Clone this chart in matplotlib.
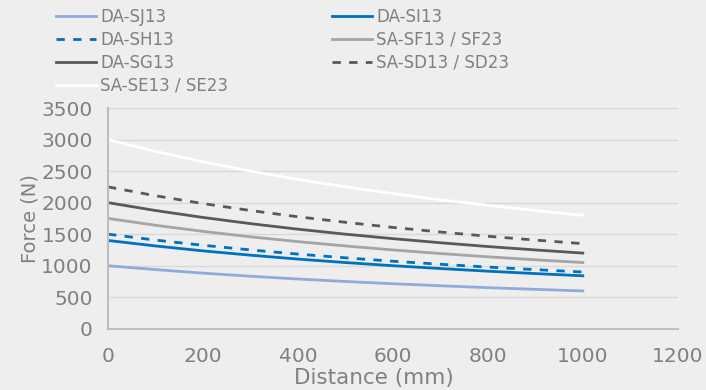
import matplotlib.pyplot as plt

distance = [0, 100, 200, 300, 400, 500, 600, 700, 800, 900, 1000]

sj13 = [1000, 938, 882, 833, 789, 750, 714, 682, 652, 625, 600]
si13 = [1400, 1313, 1235, 1167, 1105, 1050, 1000, 955, 913, 875, 840]
sh13 = [1500, 1406, 1324, 1250, 1184, 1125, 1071, 1023, 978, 938, 900]
sf13 = [1750, 1641, 1544, 1458, 1382, 1313, 1250, 1193, 1141, 1094, 1050]
sg13 = [2000, 1875, 1765, 1667, 1579, 1500, 1429, 1364, 1304, 1250, 1200]
sd13 = [2250, 2109, 1985, 1875, 1776, 1688, 1607, 1534, 1467, 1406, 1350]
se13 = [3000, 2813, 2647, 2500, 2368, 2250, 2143, 2045, 1957, 1875, 1800]

bg = '#EEEEEE'
txt = '#808080'

plt.rcParams['font.family'] = ['DejaVu Sans']

fig = plt.figure(figsize=(7.06, 3.9), dpi=100, facecolor=bg)
ax = fig.add_axes([0.153, 0.157, 0.807, 0.566], facecolor=bg)

l_sj, = ax.plot(distance, sj13, color='#8FAADC', lw=2, label='DA-SJ13')
l_si, = ax.plot(distance, si13, color='#0070C0', lw=2, label='DA-SI13')
l_sh, = ax.plot(distance, sh13, color='#0070C0', lw=2, ls=(0, (3, 3)), label='DA-SH13')
l_sf, = ax.plot(distance, sf13, color='#A5A5A5', lw=2, label='SA-SF13 / SF23')
l_sg, = ax.plot(distance, sg13, color='#595959', lw=2, label='DA-SG13')
l_sd, = ax.plot(distance, sd13, color='#595959', lw=2, ls=(0, (3, 3)), label='SA-SD13 / SD23')
l_se, = ax.plot(distance, se13, color='#FFFFFF', lw=2, label='SA-SE13 / SE23')

ax.set_xlim(0, 1200)
ax.set_ylim(0, 3500)
ax.set_xticks(range(0, 1201, 200))
ax.set_yticks(range(0, 3501, 500))
ax.grid(axis='y', color='#D9D9D9', lw=1)
ax.set_axisbelow(True)
for s in ['top', 'right']:
    ax.spines[s].set_visible(False)
for s in ['left', 'bottom']:
    ax.spines[s].set_color('#BFBFBF')
    ax.spines[s].set_linewidth(1.5)
ax.tick_params(length=0, labelsize=14.5, colors=txt)
ax.tick_params(axis='y', pad=11)
ax.tick_params(axis='x', pad=13)
xl = ax.set_xlabel('Distance (mm)', fontsize=15.5, color=txt)
xl.set_va('center')
ax.xaxis.set_label_coords(0.467, -0.222)
ax.set_ylabel('Force (N)', fontsize=14, color=txt, labelpad=1)

handles = [l_sj, l_sh, l_sg, l_se, l_si, l_sf, l_sd]
leg = fig.legend(handles=handles, labels=[h.get_label() for h in handles],
                 ncol=2, loc='upper left', bbox_to_anchor=(0.058, 1.018),
                 frameon=False, fontsize=12, handlelength=2.4, handletextpad=0.25,
                 labelspacing=0.3, columnspacing=6.25)
for t in leg.get_texts():
    t.set_color(txt)

fig.savefig('out.png', dpi=100, facecolor=bg)
